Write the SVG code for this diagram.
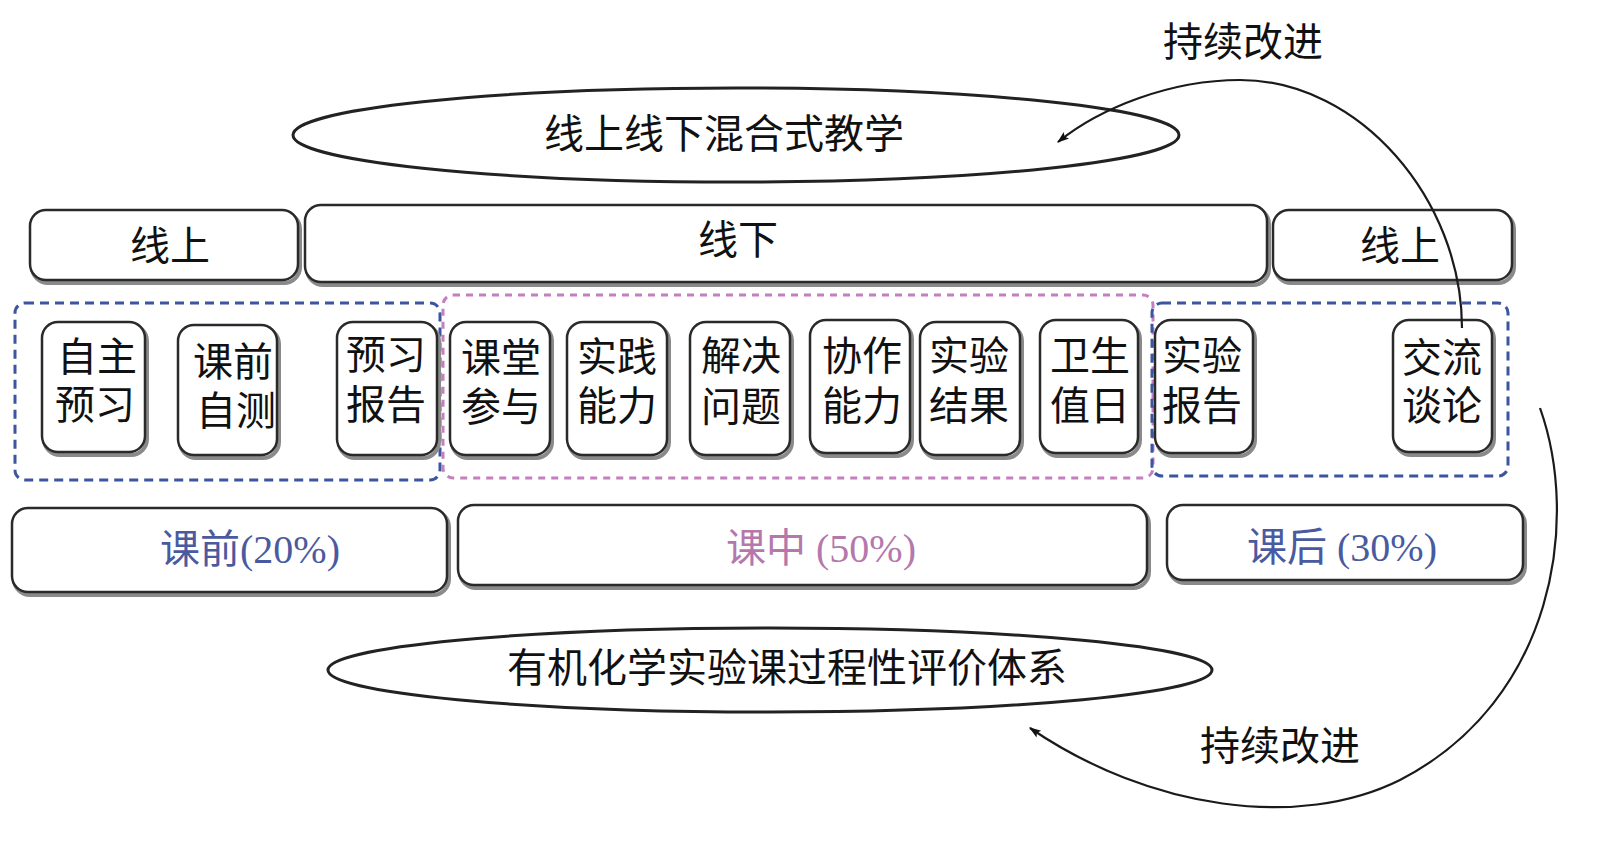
<svg xmlns="http://www.w3.org/2000/svg" width="1600" height="856" viewBox="0 0 1600 856">
<defs>
<style>
.t{font-family:"Liberation Serif","Noto Sans CJK SC",serif;font-size:40px;fill:#111;text-anchor:middle;dominant-baseline:central}
.box{fill:#fff;stroke:#2a2a2a;stroke-width:2.5}
.sh{fill:none;stroke:#8a8a8a;stroke-width:4}
.ell{fill:#fff;stroke:#222;stroke-width:3}
.blue{fill:none;stroke:#3b55a0;stroke-width:3;stroke-dasharray:9 6}
.pink{fill:none;stroke:#c47fbf;stroke-width:3;stroke-dasharray:7 6}
.cb{fill:#4a5aa0}
.cp{fill:#b478ad}
.arr{fill:none;stroke:#1a1a1a;stroke-width:2.2}
</style>
<marker id="ah" viewBox="0 0 10 10" refX="9" refY="5" markerWidth="16" markerHeight="12" orient="auto-start-reverse" markerUnits="userSpaceOnUse">
<path d="M0,1.5 L10,5 L0,8.5 L2,5 Z" fill="#111"/>
</marker>
</defs>
<rect width="1600" height="856" fill="#fff"/>

<g id="ellipse-top">
<ellipse class="ell" cx="736" cy="135" rx="443" ry="47"/>
<text class="t" x="724" y="134">线上线下混合式教学</text>
</g>

<g id="online-1">
<rect class="sh" x="32" y="213" width="268" height="70" rx="16"/>
<rect class="box" x="30" y="210" width="268" height="70" rx="16"/>
<text class="t" x="170" y="246">线上</text>
</g>
<g id="offline">
<rect class="sh" x="307" y="208" width="962" height="77" rx="16"/>
<rect class="box" x="305" y="205" width="962" height="77" rx="16"/>
<text class="t" x="738" y="240">线下</text>
</g>
<g id="online-2">
<rect class="sh" x="1275" y="213" width="239" height="70" rx="16"/>
<rect class="box" x="1273" y="210" width="239" height="70" rx="16"/>
<text class="t" x="1400" y="246">线上</text>
</g>

<g id="group-pre">
<rect class="blue" x="15" y="303" width="425" height="177" rx="10"/>
</g>
<g id="group-in">
<rect class="pink" x="443" y="295" width="710" height="183" rx="10"/>
</g>
<g id="group-post">
<rect class="blue" x="1152" y="303" width="356" height="173" rx="10"/>
</g>

<g id="n1"><rect class="sh" x="44" y="325" width="103" height="130" rx="16"/><rect class="box" x="42" y="322" width="103" height="130" rx="16"/><text class="t" x="97" y="357">自主</text><text class="t" x="95" y="405">预习</text></g>
<g id="n2"><rect class="sh" x="180" y="328" width="99" height="130" rx="16"/><rect class="box" x="178" y="325" width="99" height="130" rx="16"/><text class="t" x="233" y="362">课前</text><text class="t" x="236" y="411">自测</text></g>
<g id="n3"><rect class="sh" x="339" y="325" width="100" height="133" rx="16"/><rect class="box" x="337" y="322" width="100" height="133" rx="16"/><text class="t" x="386" y="355">预习</text><text class="t" x="386" y="405">报告</text></g>
<g id="n4"><rect class="sh" x="452" y="325" width="100" height="133" rx="16"/><rect class="box" x="450" y="322" width="100" height="133" rx="16"/><text class="t" x="501" y="358">课堂</text><text class="t" x="501" y="407">参与</text></g>
<g id="n5"><rect class="sh" x="569" y="325" width="100" height="133" rx="16"/><rect class="box" x="567" y="322" width="100" height="133" rx="16"/><text class="t" x="617" y="357">实践</text><text class="t" x="617" y="406">能力</text></g>
<g id="n6"><rect class="sh" x="692" y="325" width="100" height="133" rx="16"/><rect class="box" x="690" y="322" width="100" height="133" rx="16"/><text class="t" x="741" y="356">解决</text><text class="t" x="741" y="407">问题</text></g>
<g id="n7"><rect class="sh" x="812" y="323" width="100" height="133" rx="16"/><rect class="box" x="810" y="320" width="100" height="133" rx="16"/><text class="t" x="862" y="356">协作</text><text class="t" x="862" y="406">能力</text></g>
<g id="n8"><rect class="sh" x="922" y="325" width="100" height="133" rx="16"/><rect class="box" x="920" y="322" width="100" height="133" rx="16"/><text class="t" x="969" y="356">实验</text><text class="t" x="969" y="406">结果</text></g>
<g id="n9"><rect class="sh" x="1042" y="323" width="98" height="133" rx="16"/><rect class="box" x="1040" y="320" width="98" height="133" rx="16"/><text class="t" x="1090" y="356">卫生</text><text class="t" x="1090" y="406">值日</text></g>
<g id="n10"><rect class="sh" x="1157" y="323" width="98" height="133" rx="16"/><rect class="box" x="1155" y="320" width="98" height="133" rx="16"/><text class="t" x="1202" y="356">实验</text><text class="t" x="1202" y="406">报告</text></g>
<g id="n11"><rect class="sh" x="1395" y="323" width="99" height="132" rx="16"/><rect class="box" x="1393" y="320" width="99" height="132" rx="16"/><text class="t" x="1442" y="358">交流</text><text class="t" x="1442" y="406">谈论</text></g>

<g id="phase-pre">
<rect class="sh" x="14" y="511" width="435" height="84" rx="16"/>
<rect class="box" x="12" y="508" width="435" height="84" rx="16"/>
<text class="t cb" x="250" y="549">课前(20%)</text>
</g>
<g id="phase-in">
<rect class="sh" x="460" y="508" width="689" height="80" rx="16"/>
<rect class="box" x="458" y="505" width="689" height="80" rx="16"/>
<text class="t cp" x="821" y="548">课中 (50%)</text>
</g>
<g id="phase-post">
<rect class="sh" x="1169" y="508" width="356" height="75" rx="16"/>
<rect class="box" x="1167" y="505" width="356" height="75" rx="16"/>
<text class="t cb" x="1342" y="547">课后 (30%)</text>
</g>

<g id="ellipse-bottom">
<ellipse class="ell" cx="770" cy="670" rx="442" ry="42"/>
<text class="t" x="787" y="668">有机化学实验课过程性评价体系</text>
</g>

<g id="connectors">
<path class="arr" d="M1462,328 C1462,200 1360,80 1240,80 C1170,80 1100,108 1058,142" marker-end="url(#ah)"/>
<path class="arr" d="M1540,408 C1580,520 1555,700 1400,780 C1300,830 1150,810 1030,728" marker-end="url(#ah)"/>
</g>

<g id="labels">
<text class="t" x="1243" y="42">持续改进</text>
<text class="t" x="1280" y="746">持续改进</text>
</g>
</svg>
